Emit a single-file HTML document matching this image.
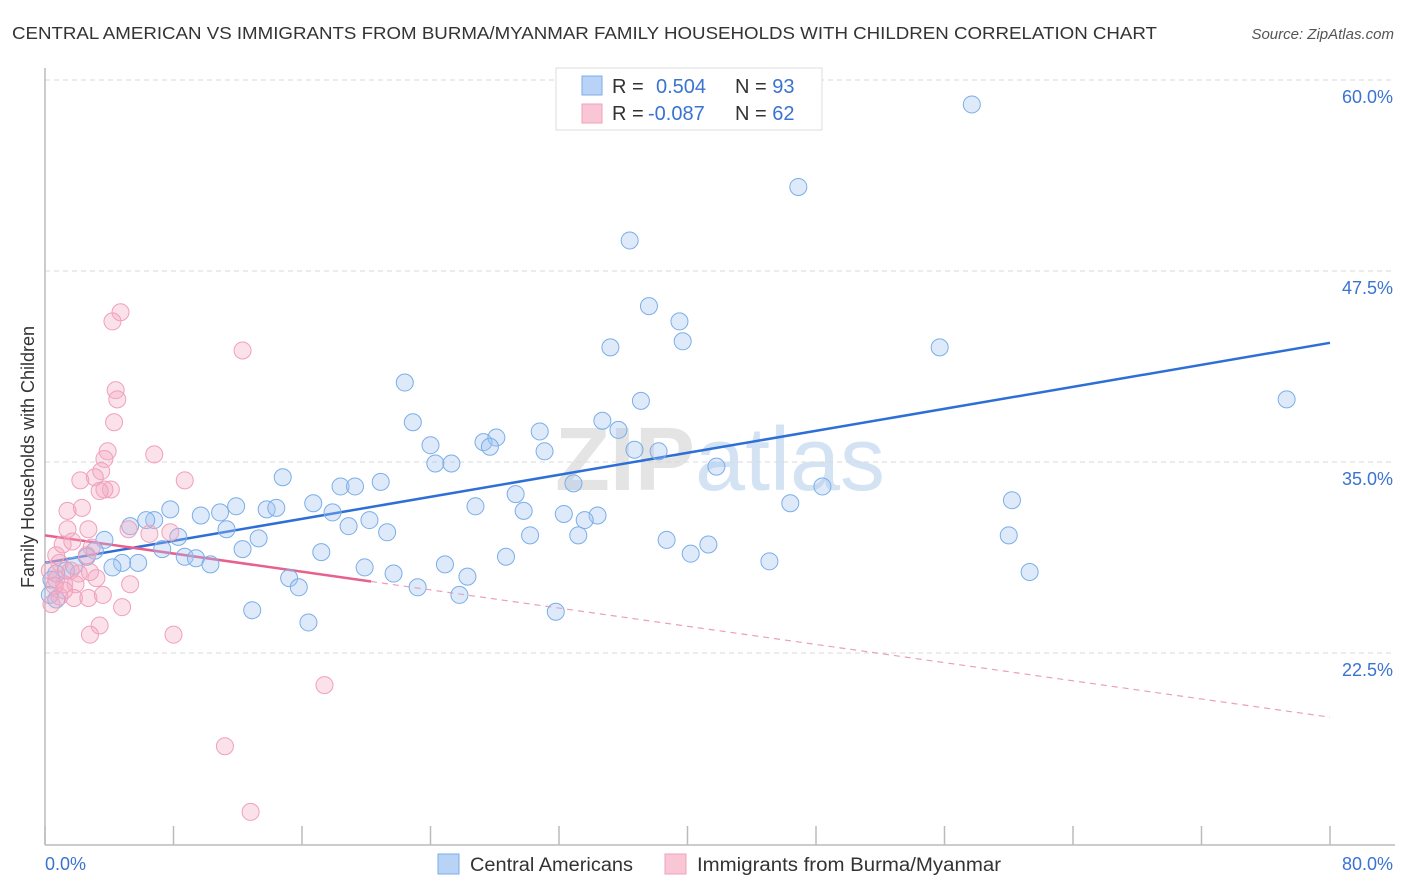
<!DOCTYPE html>
<html><head><meta charset="utf-8"><style>
body{margin:0;background:#fff;font-family:"Liberation Sans",sans-serif;}
#wrap{position:relative;width:1406px;height:892px;overflow:hidden;}
svg text{font-family:"Liberation Sans",sans-serif;}
</style></head><body>
<div id="wrap">
<svg id="chart" width="1406" height="892">
<text x="12" y="39" font-size="17.5" fill="#333" textLength="1145" lengthAdjust="spacingAndGlyphs">CENTRAL AMERICAN VS IMMIGRANTS FROM BURMA/MYANMAR FAMILY HOUSEHOLDS WITH CHILDREN CORRELATION CHART</text>
<text x="1394" y="39" font-size="15" fill="#555" font-style="italic" text-anchor="end">Source: ZipAtlas.com</text>
<text x="720" y="490" font-size="90" fill="#e4e4e4" text-anchor="middle" font-family="Liberation Serif"><tspan font-weight="bold">ZIP</tspan><tspan fill="#d4e3f4" font-family="Liberation Sans">atlas</tspan></text>
<g id="grid"></g>
<g id="axes"></g>
<g id="trends"></g>
<g id="points"></g>
<text transform="translate(34,457) rotate(-90)" font-size="18" fill="#333" text-anchor="middle">Family Households with Children</text>
<g>
<rect x="556" y="68" width="266" height="62" fill="#fff" stroke="#ddd"/>
<rect x="582" y="76" width="20" height="19" fill="#b8d3f5" stroke="#7aaee8"/>
<rect x="582" y="104" width="20" height="19" fill="#f9c6d5" stroke="#f0a0bb"/>
<text x="612" y="93" font-size="20" fill="#333">R =</text>
<text x="656" y="93" font-size="20" fill="#3a73d0">0.504</text>
<text x="735" y="93" font-size="20" fill="#333">N = <tspan fill="#3a73d0">93</tspan></text>
<text x="612" y="120" font-size="20" fill="#333">R =</text>
<text x="648" y="120" font-size="20" fill="#3a73d0">-0.087</text>
<text x="735" y="120" font-size="20" fill="#333">N = <tspan fill="#3a73d0">62</tspan></text>
</g>
<g>
<rect x="438" y="854" width="21" height="20" fill="#b8d3f5" stroke="#7aaee8"/>
<text x="470" y="871" font-size="19" fill="#333" textLength="163" lengthAdjust="spacingAndGlyphs">Central Americans</text>
<rect x="665" y="854" width="21" height="20" fill="#f9c6d5" stroke="#f0a0bb"/>
<text x="697" y="871" font-size="19" fill="#333" textLength="304" lengthAdjust="spacingAndGlyphs">Immigrants from Burma/Myanmar</text>
</g>
</svg>
</div>
<script>
const blueX=[57.7,46.9,36.4,37.6,39.5,35.2,39.7,55.7,77.3,22.4,37.1,22.9,34.7,35.7,24.0,27.3,28.1,27.7,30.8,31.1,36.7,38.2,24.3,25.3,41.8,14.8,20.9,18.4,19.3,32.9,29.3,48.4,46.4,60.2,26.8,29.8,32.3,34.4,33.6,16.7,17.9,20.2,18.9,21.3,13.8,14.4,11.9,10.9,9.7,7.8,11.3,13.3,8.3,6.8,6.3,5.3,3.7,7.3,12.3,8.7,9.4,10.3,5.8,4.8,4.2,3.1,2.6,1.8,1.3,0.7,0.4,0.3,0.7,17.2,19.9,21.7,24.9,26.3,25.8,23.2,15.2,15.8,12.9,16.4,28.7,31.8,30.2,33.2,38.7,40.2,41.3,45.1,60.0,61.3];
const blueY=[58.4,53.0,49.5,45.2,44.2,42.5,42.9,42.5,39.1,40.2,39.0,37.6,37.7,37.1,36.1,36.3,36.6,36.0,37.0,35.7,35.8,35.7,34.9,34.9,34.7,34.0,33.7,33.4,33.4,33.6,32.9,33.4,32.3,32.5,32.1,31.8,31.6,31.5,31.2,32.3,31.7,31.2,30.8,30.4,31.9,32.0,32.1,31.7,31.5,31.9,30.6,30.0,30.1,31.2,31.2,30.8,29.9,29.3,29.3,28.8,28.7,28.3,28.4,28.4,28.1,29.2,28.8,28.2,27.9,27.7,27.3,26.3,26.0,29.1,28.1,27.7,28.3,27.5,26.3,26.8,27.4,26.8,25.3,24.5,28.8,25.2,30.2,30.2,29.9,29.0,29.6,28.5,30.2,27.8];
const pinkX=[4.7,4.2,12.3,4.4,4.5,4.3,3.9,6.8,3.7,3.5,3.1,8.7,2.2,4.1,3.7,3.4,2.3,1.4,1.4,2.7,5.2,6.5,7.8,0.7,1.1,1.7,2.9,2.6,0.9,1.6,2.1,2.8,0.7,1.2,1.9,3.2,5.3,0.9,1.8,2.7,3.6,1.2,0.4,4.8,3.4,2.8,8.0,17.4,11.2,12.8,0.3,0.6];
const pinkY=[44.8,44.2,42.3,39.7,39.1,37.6,35.7,35.5,35.2,34.4,34.0,33.8,33.8,33.2,33.2,33.1,32.0,31.8,30.6,30.6,30.6,30.3,30.4,28.9,29.6,29.8,29.4,28.9,28.4,27.9,27.7,27.8,27.3,27.0,27.0,27.4,27.0,26.2,26.1,26.1,26.3,26.6,25.7,25.5,24.3,23.7,23.7,20.4,16.4,12.1,27.9,26.9];
const xTicks=[0,8,16,24,32,40,48,56,64,72,80];
const yTicks=[22.5,35.0,47.5,60.0];
const yTickLabels=["22.5%","35.0%","47.5%","60.0%"];
const blueTrend=[[0,28.4],[80,42.8]];
const pinkTrend=[[0,30.2],[80,18.3]];
const pinkSolidEnd=20.3;

const NS="http://www.w3.org/2000/svg";
const X=v=>45+v*(1285/80);
const Y=v=>80+(60-v)*15.28;
function mk(tag,attrs,parent){const e=document.createElementNS(NS,tag);for(const k in attrs)e.setAttribute(k,attrs[k]);parent.appendChild(e);return e;}
const grid=document.getElementById('grid'),axes=document.getElementById('axes'),trends=document.getElementById('trends'),pts=document.getElementById('points');
yTicks.forEach((t,i)=>{
  const l=mk('line',{x1:45,x2:1395,y1:Y(t),y2:Y(t),stroke:'#d8d8d8','stroke-dasharray':'5,4'},grid);
  
  
  const tx=mk('text',{x:1393,y:Y(t)+23,'font-size':18,fill:'#3a73d0','text-anchor':'end'},grid);
  tx.textContent=yTickLabels[i];
  
  
});
const ya=mk('line',{x1:45,x2:45,y1:68,y2:845,stroke:'#bbb','stroke-width':1.5},axes);


const xa=mk('line',{x1:45,x2:1395,y1:845,y2:845,stroke:'#bbb','stroke-width':1.5},axes);


xTicks.forEach(t=>{
  const l=mk('line',{x1:X(t),x2:X(t),y1:826,y2:845,stroke:'#bbb','stroke-width':1.5},axes);
  
  
});
const xl0=mk('text',{x:45,y:870,'font-size':18,fill:'#3a73d0'},axes);xl0.textContent=xTicks[0].toFixed(1)+'%';


const xl1=mk('text',{x:1393,y:870,'font-size':18,fill:'#3a73d0','text-anchor':'end'},axes);xl1.textContent=xTicks[xTicks.length-1].toFixed(1)+'%';



function drawPts(xs,ys,fill,stroke,name){
  xs.forEach((x,i)=>{
    const c=mk('circle',{cx:X(x),cy:Y(ys[i]),r:8.5,fill:fill,stroke:stroke,'stroke-width':1},pts);
    
    
  });
}
drawPts(blueX,blueY,'rgba(160,196,240,0.35)','#7aaee8','point-central-american');
drawPts(pinkX,pinkY,'rgba(244,170,195,0.35)','#f0a0bb','point-burma-myanmar');

const bt=mk('line',{x1:X(blueTrend[0][0]),y1:Y(blueTrend[0][1]),x2:X(blueTrend[1][0]),y2:Y(blueTrend[1][1]),stroke:'#2d6fd6','stroke-width':2.5},trends);


const pAt=x=>pinkTrend[0][1]+(pinkTrend[1][1]-pinkTrend[0][1])*(x-pinkTrend[0][0])/(pinkTrend[1][0]-pinkTrend[0][0]);
const ps=mk('line',{x1:X(pinkTrend[0][0]),y1:Y(pinkTrend[0][1]),x2:X(pinkSolidEnd),y2:Y(pAt(pinkSolidEnd)),stroke:'#e8608c','stroke-width':2.5},trends);


const pd=mk('line',{x1:X(pinkSolidEnd),y1:Y(pAt(pinkSolidEnd)),x2:X(pinkTrend[1][0]),y2:Y(pinkTrend[1][1]),stroke:'#eaa0b8','stroke-width':1.2,'stroke-dasharray':'6,5'},trends);


</script>
</body></html>
